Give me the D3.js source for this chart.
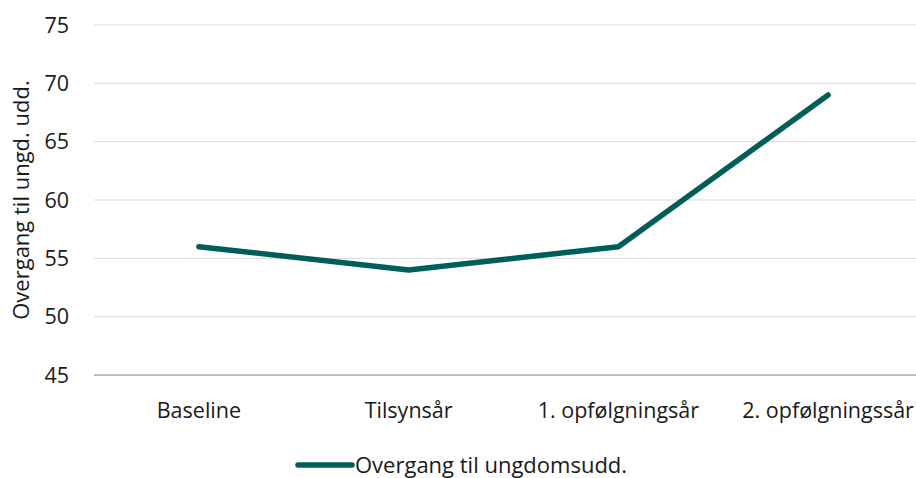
<!DOCTYPE html>
<html>
<head>
<meta charset="utf-8">
<script src="https://cdn.jsdelivr.net/npm/d3@7"></script>
<style>
  body { margin: 0; background: #fff; }
  svg { display: block; font-family: "Open Sans", "Noto Sans", sans-serif; }
</style>
</head>
<body>
<svg id="chart" width="916" height="478"></svg>
<script>
// chart data
var categories = ["Baseline", "Tilsynsår", "1. opfølgningsår", "2. opfølgningssår"];
var values = [56, 54, 56, 69];
var yTicks = [45, 50, 55, 60, 65, 70, 75];
var seriesName = "Overgang til ungdomsudd.";
var yTitle = "Overgang til ungd. udd.";

var svg = d3.select("#chart"),
    color = "#005e58";

var x = d3.scalePoint()
    .domain(categories)
    .range([94, 933])
    .padding(0.5);

var y = d3.scaleLinear()
    .domain([45, 75])
    .range([375, 25]);

// gridlines
svg.append("g")
  .selectAll("line")
  .data(yTicks.slice(1))
  .enter().append("line")
    .attr("x1", 94).attr("x2", 933)
    .attr("y1", function(d) { return y(d); })
    .attr("y2", function(d) { return y(d); })
    .attr("stroke", "#d9d9d9")
    .attr("stroke-width", 1);

// base axis line
svg.append("line")
  .attr("x1", 94).attr("x2", 933)
  .attr("y1", y(45)).attr("y2", y(45))
  .attr("stroke", "#a6a6a6")
  .attr("stroke-width", 1.3);

// y tick labels
svg.append("g")
  .selectAll("text")
  .data(yTicks)
  .enter().append("text")
    .attr("x", 69)
    .attr("y", function(d) { return y(d); })
    .attr("dy", "0.36em")
    .attr("text-anchor", "end")
    .attr("font-size", 21.5)
    .attr("fill", "#1a1a1a")
    .text(function(d) { return d; });

// category labels
svg.append("g")
  .selectAll("text")
  .data(categories)
  .enter().append("text")
    .attr("x", function(d) { return x(d); })
    .attr("y", 418)
    .attr("text-anchor", "middle")
    .attr("font-size", 21.5)
    .attr("fill", "#1a1a1a")
    .text(function(d) { return d; });

// y axis title
svg.append("text")
  .attr("transform", "translate(29,200) rotate(-90)")
  .attr("text-anchor", "middle")
  .attr("font-size", 22)
  .attr("fill", "#1a1a1a")
  .text(yTitle);

// series line
var line = d3.line()
  .x(function(d, i) { return x(categories[i]); })
  .y(function(d) { return y(d); });

svg.append("path")
  .datum(values)
  .attr("d", line)
  .attr("fill", "none")
  .attr("stroke", color)
  .attr("stroke-width", 5.5)
  .attr("stroke-linecap", "round")
  .attr("stroke-linejoin", "round");

// legend
var legend = svg.append("g").attr("transform", "translate(298,465)");
legend.append("line")
  .attr("x1", 0).attr("x2", 54)
  .attr("stroke", color)
  .attr("stroke-width", 5.5)
  .attr("stroke-linecap", "round");
legend.append("text")
  .attr("x", 57)
  .attr("dy", "0.36em")
  .attr("font-size", 22)
  .attr("fill", "#1a1a1a")
  .text(seriesName);
</script>
</body>
</html>
